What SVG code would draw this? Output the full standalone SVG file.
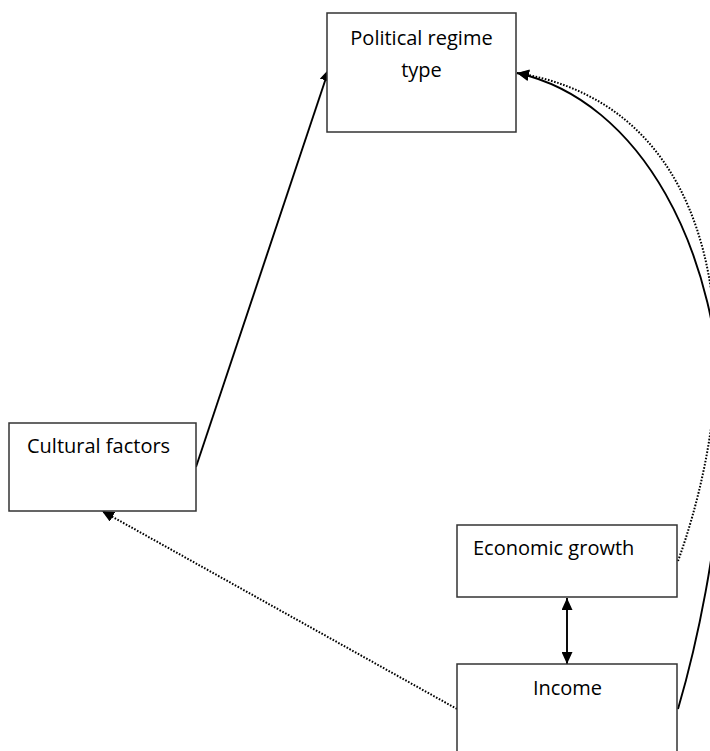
<svg xmlns="http://www.w3.org/2000/svg" width="710" height="751" viewBox="0 0 710 751">
  <defs>
    <marker id="arrow" markerUnits="userSpaceOnUse" markerWidth="12" markerHeight="11" refX="12" refY="5.5" orient="auto-start-reverse">
      <path d="M0,0 L12,5.5 L0,11 z" fill="#000"/>
    </marker>
  </defs>
  <style>
    .box { fill: #fff; stroke: #333; stroke-width: 1.5; }
    .label { font-family: "Open Sans", "Noto Sans", sans-serif; font-size: 20px; fill: #000; }
    .solid { fill: none; stroke: #000; stroke-width: 1.9; }
    .dotted { fill: none; stroke: #000; stroke-width: 2; stroke-dasharray: 1.6 1.6; }
  </style>
  <rect width="710" height="751" fill="#fff"/>

  <!-- connectors (drawn first so boxes sit on top of arrow tips) -->
  <g id="connectors">
    <!-- Cultural factors -> Political regime type -->
    <path class="solid" d="M196,467 L329,69" marker-end="url(#arrow)"/>
    <!-- Income -> Cultural factors -->
    <path class="dotted" d="M457,709 L102,511" marker-end="url(#arrow)"/>
    <!-- Income -> Political regime type -->
    <path class="solid" d="M678,709 C693,658 722,540 722,430 C722,250 640,100 517,73" marker-end="url(#arrow)"/>
    <!-- Economic growth -> Political regime type -->
    <path class="dotted" d="M678,561 C698,506 716,430 716,360 C716,210 655,95 517,73" marker-end="url(#arrow)"/>
    <!-- Economic growth <-> Income -->
    <path class="solid" d="M567,598 L567,664" marker-start="url(#arrow)" marker-end="url(#arrow)"/>
  </g>

  <g id="political-regime">
    <rect class="box" x="327" y="13" width="189" height="119"/>
    <text class="label" x="421.5" y="45" text-anchor="middle">Political regime</text>
    <text class="label" x="421.5" y="77" text-anchor="middle">type</text>
  </g>

  <g id="cultural-factors">
    <rect class="box" x="9" y="423" width="187" height="88"/>
    <text class="label" x="27" y="453">Cultural factors</text>
  </g>

  <g id="economic-growth">
    <rect class="box" x="457" y="525" width="220" height="72"/>
    <text class="label" x="473" y="555">Economic growth</text>
  </g>

  <g id="income">
    <rect class="box" x="457" y="664" width="220" height="100"/>
    <text class="label" x="567.5" y="695" text-anchor="middle">Income</text>
  </g>
</svg>
